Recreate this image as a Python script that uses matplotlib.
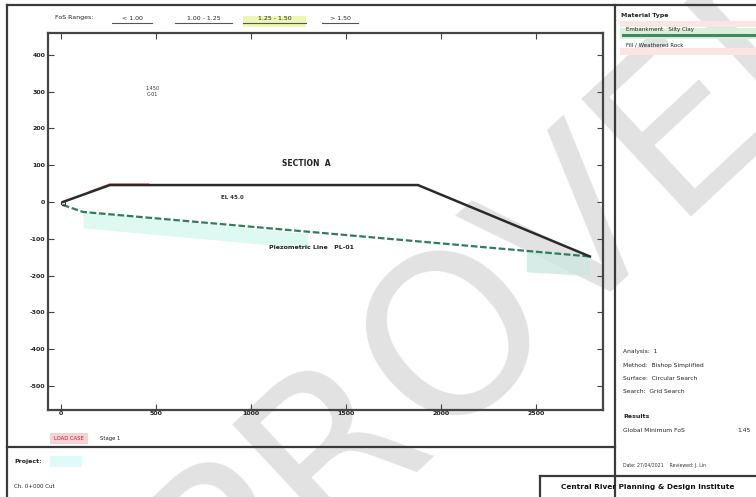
import matplotlib
matplotlib.use("Agg")
import matplotlib.pyplot as plt
from matplotlib.patches import Rectangle

plt.rcParams['font.family'] = ['DejaVu Sans']

# ---- section data ----
x_ticks = [0, 500, 1000, 1500, 2000, 2500]
y_ticks = [400, 300, 200, 100, 0, -100, -200, -300, -400, -500]

surface_x = [10, 258, 1879, 2784]
surface_y = [0, 46, 46, -148]

crest_x = [150, 258, 460]
crest_y = [28, 49, 49]

water_x = [10, 116, 2784]
water_y = [-8, -27, -148]

fos_labels = ["< 1.00", "1.00 - 1.25", "1.25 - 1.50", "> 1.50"]
materials = ["Embankment   Silty Clay", "Fill / Weathered Rock"]
analysis_lines = ["Analysis:  1", "Method:  Bishop Simplified",
                  "Surface:  Circular Search", "Search:  Grid Search"]
fos_value = "1.45"

W, H = 756, 497
fig = plt.figure(figsize=(W / 100, H / 100), dpi=100)


def fx(x):
    return x / W


def fy(y):
    return 1 - y / H


# watermark layer (behind everything)
wm = fig.add_axes([0, 0, 1, 1], zorder=0)
wm.set_xlim(0, W)
wm.set_ylim(H, 0)
wm.axis('off')
wm.text(420, 385, "APPROVED", fontsize=160, fontweight='normal', color='#e2e2e2',
        rotation=43, ha='center', va='center', rotation_mode='anchor')

# ---- main section plot ----
ax = fig.add_axes([fx(48), fy(410), (603 - 48) / W, (410 - 33) / H], zorder=1)
ax.set_facecolor('none')
ax.set_xlim(-68, 2853)
ax.set_ylim(-565, 459)
ax.set_xticks(x_ticks)
ax.set_yticks(y_ticks)
ax.set_xticklabels([str(v) for v in x_ticks], fontsize=4.5, fontweight='bold', color='#222222')
ax.set_yticklabels([str(v) for v in y_ticks], fontsize=4.5, fontweight='bold', color='#222222')
ax.tick_params(direction='in', length=4, width=0.8, color='#444444',
               top=True, right=True, pad=2)
ax.tick_params(axis='x', pad=1)
for s in ax.spines.values():
    s.set_linewidth(1.6)
    s.set_color('#444444')

# highlight bands along the phreatic line
ax.fill_between([116, 1300], [-27, -86], [-70, -126], color='#d6f7ef', alpha=0.8, lw=0)
ax.fill_between([2450, 2784], [-131, -148], [-190, -200], color='#cfe8e1', alpha=0.8, lw=0)

ax.plot(water_x, water_y, color='#2e7d5b', lw=1.6, ls=(0, (3, 1.2)), zorder=3)
ax.plot(surface_x, surface_y, color='#2a2a2a', lw=1.8, zorder=4)
ax.plot(crest_x, crest_y, color='#e06a6a', lw=1.2, alpha=0.7, zorder=3)
ax.plot([10], [-4], marker='o', ms=3, mfc='none', mec='#333333', mew=0.8, zorder=5)

ax.text(480, 300, "1.450\nC-01", fontsize=3.5, ha='center', va='center', color='#333333',
        linespacing=1.1)
ax.text(1290, 105, "SECTION  A", fontsize=5.5, fontweight='bold', ha='center', va='center',
        color='#222222')
ax.text(900, 12, "EL 45.0", fontsize=4, fontweight='bold', ha='center', va='center',
        color='#333333')
ax.text(1320, -123, "Piezometric Line   PL-01", fontsize=4.5, fontweight='bold',
        ha='center', va='center', color='#222222')

# ---- frame, panels and annotations ----
ov = fig.add_axes([0, 0, 1, 1], zorder=2)
ov.set_facecolor('none')
ov.set_xlim(0, W)
ov.set_ylim(H, 0)
ov.axis('off')

line_kw = dict(color='#3a3a3a', lw=1.6)
ov.plot([7, W], [5, 5], **line_kw)
ov.plot([7, 7], [5, H], **line_kw)
ov.plot([615, 615], [5, H], **line_kw)
ov.plot([7, 615], [447, 447], **line_kw)
ov.plot([540, W], [476, 476], **line_kw)
ov.plot([540, 540], [476, H], **line_kw)

# factor of safety range key
ov.add_patch(Rectangle((243, 16), 63, 11, color='#eef6b4', lw=0))
ov.text(55, 18, "FoS Ranges:", fontsize=4.5, ha='left', va='center', color='#222222')
key_pos = [(112, 152), (175, 232), (243, 306), (322, 358)]
for (a, b), lab in zip(key_pos, fos_labels):
    ov.text((a + b) / 2, 18, lab, fontsize=4.5, ha='center', va='center', color='#222222')
    ov.plot([a, b], [23, 23], color='#555555', lw=0.8)

# material legend
ov.text(621, 15, "Material Type", fontsize=4.5, fontweight='bold', ha='left', va='center',
        color='#222222')
ov.add_patch(Rectangle((620, 21), 136, 6, color='#fbe4e4', lw=0))
ov.add_patch(Rectangle((620, 28), 136, 11, color='#d9f0dd', lw=0))
ov.plot([623, W], [35, 35], color='#3f8a5e', lw=2.2)
ov.text(626, 30, materials[0], fontsize=4, ha='left', va='center', color='#222222')
ov.add_patch(Rectangle((620, 48), 136, 7, color='#fbe4e4', lw=0))
ov.text(626, 45, materials[1], fontsize=4, ha='left', va='center', color='#222222')

# analysis summary
for i, t in enumerate(analysis_lines):
    ov.text(623, 352 + 13.3 * i, t, fontsize=4.3, ha='left', va='center', color='#222222')
ov.text(623, 416, "Results", fontsize=4.5, fontweight='bold', ha='left', va='center',
        color='#222222')
ov.text(623, 430, "Global Minimum FoS", fontsize=4.3, ha='left', va='center', color='#222222')
ov.text(737, 430, fos_value, fontsize=4.3, ha='left', va='center', color='#222222')
ov.text(623, 466, "Date: 27/04/2021    Reviewed: J. Lin", fontsize=3.3, ha='left',
        va='center', color='#333333')
ov.text(648, 487, "Central River Planning & Design Institute", fontsize=5.3,
        fontweight='bold', ha='center', va='center', color='#111111')

# load case tag under the section
ov.add_patch(Rectangle((50, 433), 38, 11, color='#f6d2d6', lw=0))
ov.text(69, 438.5, "LOAD CASE", fontsize=3.8, ha='center', va='center', color='#b02030')
ov.text(100, 438.5, "Stage 1", fontsize=3.8, ha='left', va='center', color='#222222')

# project block
ov.add_patch(Rectangle((50, 456), 32, 11, color='#e0fafa', lw=0))
ov.text(14, 462, "Project:", fontsize=4.5, fontweight='bold', ha='left', va='center',
        color='#222222')
ov.text(14, 487, "Ch. 0+000 Cut", fontsize=4, ha='left', va='center', color='#222222')

fig.savefig("out.png", dpi=100)
